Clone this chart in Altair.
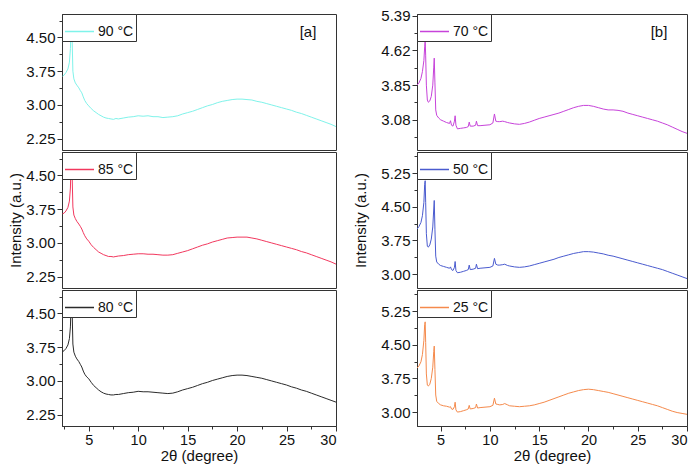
import altair as alt
import pandas as pd

# ---------------- data ----------------
x_left = [2.35, 2.5, 2.7, 2.9, 3.05, 3.15, 3.22, 3.28, 3.33, 3.4, 3.5, 3.65, 3.8, 4.0, 4.15, 4.3,
          4.45, 4.6, 4.8, 5.0, 5.25, 5.5, 5.75, 6.0, 6.25, 6.5, 6.75, 7.0, 7.25, 7.5, 7.75, 8.0,
          8.5, 9.0, 9.5, 10.0, 10.5, 11.0, 11.5, 12.0, 12.5, 13.0, 13.5, 14.0, 14.5, 15.0, 15.5,
          16.0, 16.5, 17.0, 17.5, 18.0, 18.5, 19.0, 19.5, 20.0, 20.5, 21.0, 21.5, 22.0, 22.5,
          23.0, 23.5, 24.0, 24.5, 25.0, 25.5, 26.0, 26.5, 27.0, 27.5, 28.0, 28.5, 29.0, 29.5, 30.0]
y_90 = [3.64, 3.66, 3.72, 3.80, 3.95, 4.25, 4.80, 5.60, 4.40, 3.75, 3.58, 3.49, 3.44, 3.38, 3.32, 3.27,
        3.18, 3.10, 3.03, 2.98, 2.92, 2.87, 2.83, 2.79, 2.76, 2.73, 2.71, 2.70, 2.69, 2.68, 2.70, 2.69,
        2.71, 2.73, 2.74, 2.76, 2.75, 2.76, 2.74, 2.74, 2.72, 2.73, 2.74, 2.76, 2.80, 2.83, 2.86,
        2.90, 2.94, 2.98, 3.01, 3.05, 3.08, 3.10, 3.12, 3.13, 3.13, 3.12, 3.11, 3.08, 3.06,
        3.03, 3.00, 2.97, 2.94, 2.91, 2.88, 2.84, 2.81, 2.77, 2.73, 2.69, 2.65, 2.61, 2.57, 2.52]
y_85 = [3.65, 3.66, 3.71, 3.79, 3.93, 4.22, 4.85, 5.60, 4.45, 3.80, 3.62, 3.54, 3.48, 3.42, 3.37, 3.31,
        3.23, 3.16, 3.09, 3.04, 2.96, 2.90, 2.85, 2.80, 2.77, 2.74, 2.72, 2.70, 2.70, 2.69, 2.70, 2.71,
        2.72, 2.74, 2.75, 2.76, 2.76, 2.75, 2.75, 2.74, 2.73, 2.73, 2.74, 2.77, 2.80, 2.83, 2.87,
        2.91, 2.95, 2.98, 3.02, 3.05, 3.08, 3.11, 3.12, 3.13, 3.13, 3.13, 3.11, 3.09, 3.06,
        3.03, 3.00, 2.97, 2.94, 2.91, 2.88, 2.85, 2.81, 2.78, 2.74, 2.70, 2.66, 2.62, 2.58, 2.53]
y_80 = [3.65, 3.67, 3.72, 3.80, 3.94, 4.20, 4.75, 5.60, 4.50, 3.82, 3.64, 3.55, 3.49, 3.43, 3.37, 3.31,
        3.22, 3.15, 3.09, 3.05, 2.97, 2.90, 2.85, 2.80, 2.76, 2.73, 2.71, 2.70, 2.69, 2.69, 2.70, 2.70,
        2.72, 2.74, 2.75, 2.77, 2.76, 2.76, 2.75, 2.74, 2.73, 2.72, 2.73, 2.76, 2.80, 2.83, 2.86,
        2.90, 2.94, 2.97, 3.01, 3.04, 3.07, 3.10, 3.12, 3.13, 3.13, 3.12, 3.10, 3.08, 3.06,
        3.03, 3.00, 2.97, 2.94, 2.91, 2.87, 2.84, 2.80, 2.77, 2.73, 2.69, 2.65, 2.61, 2.57, 2.53]

x_right = [2.6, 2.8, 3.0, 3.15, 3.3, 3.38, 3.43, 3.48, 3.55, 3.65, 3.75, 3.9, 4.05, 4.2, 4.3, 4.35,
           4.42, 4.5, 4.6, 4.8, 5.0, 5.3, 5.6, 5.9, 6.0, 6.1, 6.25, 6.4, 6.47, 6.55, 6.7, 7.0, 7.3,
           7.6, 7.8, 7.9, 8.0, 8.3, 8.55, 8.63, 8.75, 9.0, 9.5, 10.0, 10.3, 10.46, 10.6, 10.8, 11.0,
           11.3, 11.5, 11.8, 12.0, 12.5, 13.0, 13.5, 14.0, 14.5, 15.0, 15.5, 16.0, 16.5, 17.0, 17.5,
           18.0, 18.5, 19.0, 19.5, 20.0, 20.5, 21.0, 21.5, 22.0, 22.5, 23.0, 23.5, 24.0, 24.5, 25.0,
           25.5, 26.0, 26.5, 27.0, 27.5, 28.0, 28.5, 29.0, 29.5, 30.0]
y_70 = [3.85, 3.90, 4.00, 4.15, 4.40, 4.70, 4.86, 4.50, 3.85, 3.52, 3.47, 3.50, 3.60, 3.85, 4.25, 4.45,
        3.90, 3.30, 3.18, 3.12, 3.08, 3.05, 3.02, 3.00, 3.06, 2.96, 2.94, 3.05, 3.17, 2.96, 2.88, 2.89, 2.90,
        2.91, 2.93, 3.03, 2.94, 2.94, 2.96, 3.05, 2.95, 2.95, 2.96, 2.97, 3.01, 3.21, 3.05, 3.04, 3.04,
        3.05, 3.04, 3.02, 3.01, 2.99, 2.98, 3.00, 3.03, 3.07, 3.11, 3.14, 3.17, 3.20, 3.23, 3.27,
        3.31, 3.35, 3.38, 3.40, 3.40, 3.38, 3.35, 3.32, 3.30, 3.30, 3.29, 3.27, 3.23, 3.20, 3.17,
        3.14, 3.11, 3.08, 3.05, 3.01, 2.97, 2.92, 2.87, 2.82, 2.78]
y_50 = [4.00, 4.06, 4.15, 4.30, 4.60, 5.00, 5.08, 4.60, 3.90, 3.62, 3.60, 3.65, 3.78, 4.05, 4.45, 4.64,
        4.00, 3.40, 3.27, 3.22, 3.19, 3.17, 3.15, 3.13, 3.16, 3.10, 3.08, 3.15, 3.28, 3.08, 3.03, 3.04, 3.06,
        3.08, 3.10, 3.20, 3.10, 3.11, 3.13, 3.22, 3.12, 3.13, 3.14, 3.15, 3.18, 3.35, 3.22, 3.20, 3.20,
        3.21, 3.22, 3.19, 3.18, 3.16, 3.15, 3.16, 3.18, 3.21, 3.24, 3.27, 3.30, 3.33, 3.37, 3.40,
        3.43, 3.46, 3.48, 3.50, 3.50, 3.49, 3.47, 3.45, 3.42, 3.40, 3.37, 3.34, 3.31, 3.28, 3.25,
        3.22, 3.19, 3.16, 3.13, 3.10, 3.06, 3.02, 2.98, 2.94, 2.90]
y_25 = [3.98, 4.03, 4.12, 4.28, 4.60, 4.95, 5.01, 4.55, 3.85, 3.60, 3.58, 3.62, 3.75, 4.00, 4.35, 4.47,
        3.95, 3.38, 3.24, 3.19, 3.16, 3.14, 3.13, 3.11, 3.12, 3.07, 3.06, 3.12, 3.22, 3.05, 3.00, 3.01, 3.03,
        3.05, 3.07, 3.15, 3.07, 3.08, 3.10, 3.18, 3.09, 3.10, 3.11, 3.12, 3.15, 3.31, 3.18, 3.17, 3.16,
        3.17, 3.19, 3.16, 3.14, 3.13, 3.12, 3.13, 3.14, 3.16, 3.19, 3.22, 3.26, 3.30, 3.34, 3.38,
        3.42, 3.45, 3.48, 3.50, 3.51, 3.50, 3.48, 3.46, 3.44, 3.41, 3.38, 3.35, 3.32, 3.29, 3.26,
        3.23, 3.20, 3.17, 3.14, 3.10, 3.06, 3.02, 2.99, 2.97, 2.95]

labels_left = ["90 °C", "85 °C", "80 °C"]
labels_right = ["70 °C", "50 °C", "25 °C"]
colors_left = ["#7FF3EA", "#F2385E", "#2B2B2B"]
colors_right = ["#C743DA", "#4A5BCF", "#F58A4C"]

x_ticks = [2.5, 5, 7.5, 10, 12.5, 15, 17.5, 20, 22.5, 25, 27.5, 30]
y_ticks_left = [2.25, 2.625, 3.0, 3.375, 3.75, 4.125, 4.5, 4.875]
y_ticks_r1 = [2.695, 3.08, 3.465, 3.85, 4.235, 4.62, 5.005, 5.39]
y_ticks_r23 = [3.0, 3.375, 3.75, 4.125, 4.5, 4.875, 5.25, 5.625]

FONT = "Liberation Sans"
W_L, W_R, H = 274, 270, 136


def panel(xs, ys, label, color, xdom, ydom, yticks, ystep, ybase, width, show_x, ytitle, tag, title_pad):
    df = pd.DataFrame({"x": xs, "y": ys, "s": [label] * len(xs)})
    major_test = f"abs(round((datum.value-{ybase})/{ystep}) - (datum.value-{ybase})/{ystep}) < 0.01"
    yaxis = alt.Axis(
        values=yticks,
        labelExpr=f"{major_test} ? format(datum.value, '.2f') : ''",
        tickSize={"condition": {"test": f"!({major_test})", "value": 3}, "value": 5},
        title=ytitle if ytitle else None,
        titlePadding=title_pad,
        grid=False,
    )
    if show_x:
        xaxis = alt.Axis(
            values=x_ticks,
            labelExpr="datum.value % 5 === 0 ? format(datum.value, 'd') : ''",
            tickSize={"condition": {"test": "datum.value % 5 !== 0", "value": 3}, "value": 5},
            title="2θ (degree)",
            grid=False,
            labelFontSize=14.5,
            titlePadding=2,
        )
    else:
        xaxis = None
    line = alt.Chart(df).mark_line(clip=True, strokeWidth=1).encode(
        x=alt.X("x:Q", scale=alt.Scale(domain=xdom, nice=False, zero=False), axis=xaxis),
        y=alt.Y("y:Q", scale=alt.Scale(domain=ydom, nice=False, zero=False), axis=yaxis),
        color=alt.Color(
            "s:N",
            scale=alt.Scale(domain=[label], range=[color]),
            legend=alt.Legend(
                orient="top-left", offset=0, title=None, symbolType="stroke",
                symbolSize=841, symbolStrokeWidth=1.5, labelFontSize=14, labelFont=FONT,
                labelColor="#111", strokeColor="#333", fillColor="white", padding=2,
                labelOffset=3, cornerRadius=0, rowPadding=0,
            ),
        ),
    )
    layers = [line]
    if tag:
        t = alt.Chart(pd.DataFrame({"t": [tag]})).mark_text(
            font=FONT, fontSize=15, color="#111", align="center", baseline="middle"
        ).encode(x=alt.value(width - 28), y=alt.value(18), text="t:N")
        layers.append(t)
    return alt.layer(*layers).properties(width=width, height=H)


left_panels = []
for i, (ys, lab, col) in enumerate(zip([y_90, y_85, y_80], labels_left, colors_left)):
    left_panels.append(panel(x_left, ys, lab, col, [2.3, 30], [2.0, 5.02], y_ticks_left, 0.75, 0.0,
                             W_L, i == 2, "Intensity (a.u.)" if i == 1 else None,
                             "[a]" if i == 0 else None, 2))

right_panels = []
ydoms = [[2.41, 5.43], [2.69, 5.72], [2.69, 5.72]]
yticks_r = [y_ticks_r1, y_ticks_r23, y_ticks_r23]
ysteps = [(0.77, 3.08), (0.75, 0.0), (0.75, 0.0)]
for i, (ys, lab, col) in enumerate(zip([y_70, y_50, y_25], labels_right, colors_right)):
    right_panels.append(panel(x_right, ys, lab, col, [2.6, 30], ydoms[i], yticks_r[i],
                              ysteps[i][0], ysteps[i][1], W_R, i == 2,
                              "Intensity (a.u.)" if i == 1 else None,
                              "[b]" if i == 0 else None, 12))

left = alt.vconcat(*left_panels, spacing=0).resolve_scale(color="independent").resolve_legend(color="independent")
right = alt.vconcat(*right_panels, spacing=0).resolve_scale(color="independent").resolve_legend(color="independent")

chart = alt.hconcat(left, right, spacing=16).resolve_scale(
    color="independent"
).resolve_legend(
    color="independent"
).properties(
    padding=0, background="white"
).configure_view(
    stroke="#333", strokeWidth=1
).configure_axis(
    labelFont=FONT, titleFont=FONT, labelFontSize=15, titleFontSize=15,
    titleFontWeight="normal", labelColor="#111", titleColor="#111",
    domainColor="#333", tickColor="#333", labelPadding=2,
)

chart.save("out.html", embed_options={"renderer": "svg", "actions": False})
